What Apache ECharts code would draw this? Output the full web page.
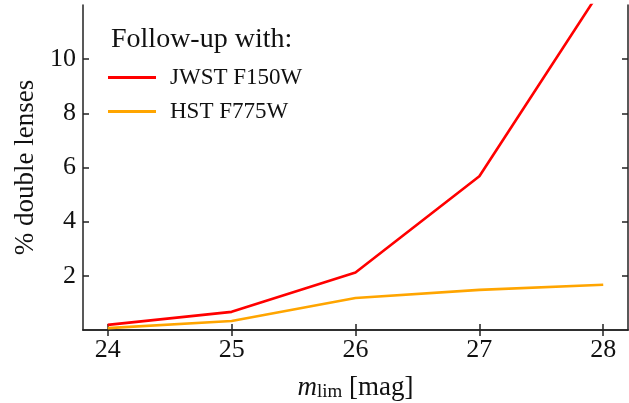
<!DOCTYPE html>
<html><head><meta charset="utf-8">
<script src="https://cdn.jsdelivr.net/npm/echarts@6/dist/echarts.min.js"></script>
<style>html,body{margin:0;padding:0;background:#fff}#c{width:629px;height:403px}</style>
</head><body><div id="c"></div>
<script>
const mlim = [24, 25, 26, 27, 28];
const jwst = [0.19, 0.67, 2.12, 5.68, 12.7];
const hst = [0.07, 0.33, 1.18, 1.48, 1.67];
const xTicks = [24, 25, 26, 27, 28];
const yTicks = [2, 4, 6, 8, 10];
const seriesNames = ['JWST F150W', 'HST F775W'];
const legendTitle = 'Follow-up with:';

const F = '"Liberation Serif", "Times New Roman", serif';
const chart = echarts.init(document.getElementById('c'));
const axBase = {
  axisLine: {show: true, lineStyle: {color: '#222', width: 1.5}},
  axisTick: {show: true, inside: true, length: 6, lineStyle: {color: '#222', width: 1.5}},
  splitLine: {show: false}
};
chart.setOption({
  animation: false,
  backgroundColor: '#fff',
  grid: {left: 83, right: 1, top: 5, bottom: 73, containLabel: false, outerBoundsMode: 'none'},
  title: {text: legendTitle, left: 106, top: 21,
    textStyle: {fontFamily: F, fontSize: 28, fontWeight: 'normal', color: '#111'}},
  legend: {
    orient: 'vertical', left: 103, top: 61, itemGap: 11,
    itemWidth: 48, itemHeight: 3, icon: 'rect',
    data: seriesNames,
    textStyle: {fontFamily: F, fontSize: 23, color: '#111', padding: [0, 0, 0, 9]}
  },
  xAxis: [
    Object.assign({type: 'value', min: 23.8, max: 28.2, interval: 1,
      name: '{i|m}{s|lim} [mag]', nameLocation: 'middle', nameGap: 44,
      nameTextStyle: {fontFamily: F, fontSize: 27, color: '#111',
        rich: {i: {fontFamily: F, fontSize: 27, fontStyle: 'italic', color: '#111'},
               s: {fontFamily: F, fontSize: 19, color: '#111', padding: [9, 0, 0, 0]}}},
      axisLabel: {fontFamily: F, fontSize: 26, color: '#111', margin: 7,
        customValues: xTicks, formatter: v => String(v)},
    }, axBase, {axisTick: Object.assign({}, axBase.axisTick, {customValues: xTicks})}),
    Object.assign({type: 'value', position: 'top', min: 23.8, max: 28.2, interval: 1,
      axisLabel: {show: false}}, axBase, {axisTick: Object.assign({}, axBase.axisTick, {customValues: xTicks})})
  ],
  yAxis: [
    Object.assign({type: 'value', min: 0, max: 12, interval: 2,
      name: '% double lenses', nameLocation: 'middle', nameGap: 44,
      nameTextStyle: {fontFamily: F, fontSize: 27, color: '#111'},
      axisLabel: {fontFamily: F, fontSize: 26, color: '#111', margin: 7,
        customValues: yTicks, formatter: v => String(v)}
    }, axBase, {axisTick: Object.assign({}, axBase.axisTick, {customValues: yTicks})}),
    Object.assign({type: 'value', position: 'right', min: 0, max: 12, interval: 2,
      axisLabel: {show: false}}, axBase, {axisTick: Object.assign({}, axBase.axisTick, {customValues: yTicks})})
  ],
  series: [
    {name: seriesNames[0], type: 'line', data: mlim.map((x, i) => [x, jwst[i]]),
      showSymbol: false, symbol: 'none', clip: true,
      lineStyle: {color: '#ff0000', width: 2.6}, itemStyle: {color: '#ff0000'}},
    {name: seriesNames[1], type: 'line', data: mlim.map((x, i) => [x, hst[i]]),
      showSymbol: false, symbol: 'none', clip: true,
      lineStyle: {color: '#ffa500', width: 2.6}, itemStyle: {color: '#ffa500'}}
  ]
});
</script></body></html>
